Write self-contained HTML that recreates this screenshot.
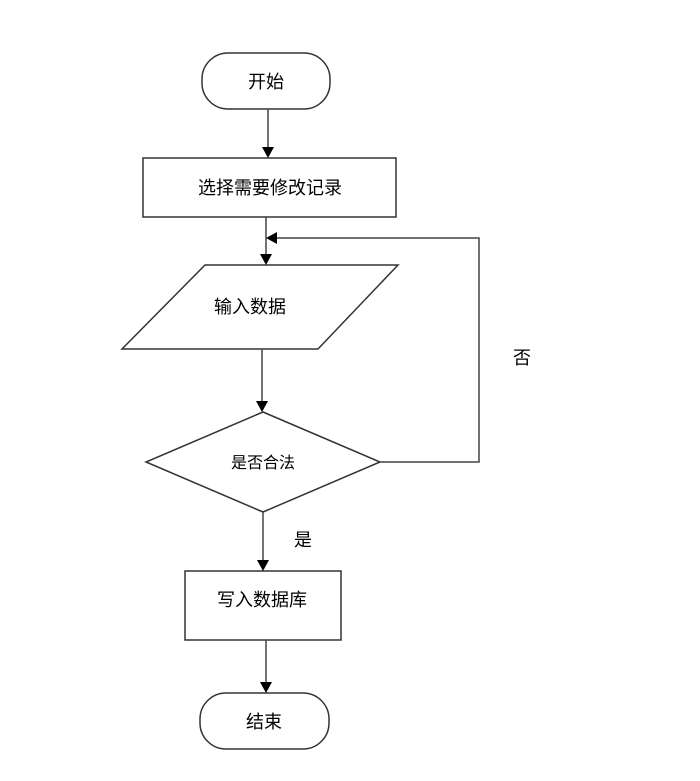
<!DOCTYPE html>
<html><head><meta charset="utf-8"><style>
html,body{margin:0;padding:0;background:#fff;}
svg text{font-family:"Liberation Sans","Noto Sans CJK SC",sans-serif;fill:#000;}
</style></head><body>
<svg width="700" height="776" xmlns="http://www.w3.org/2000/svg">
<g stroke="#333" stroke-width="1.5" fill="#fff">
<rect x="202" y="53" width="128" height="56" rx="26" ry="26"/>
<rect x="143" y="158" width="253" height="59"/>
<polygon points="205,265 398,265 318,349 122,349"/>
<polygon points="263,412 380,462 263,512 146,462"/>
<rect x="185" y="571" width="156" height="69"/>
<rect x="200" y="693" width="129" height="56" rx="26" ry="26"/>
</g>
<g stroke="#444" stroke-width="1.5" fill="none">
<line x1="268" y1="109" x2="268" y2="150"/>
<line x1="266" y1="217" x2="266" y2="257"/>
<polyline points="380,462 479,462 479,238 276,238"/>
<line x1="262" y1="349" x2="262" y2="404"/>
<line x1="263" y1="512" x2="263" y2="563"/>
<line x1="266" y1="640" x2="266" y2="685"/>
</g>
<g fill="#000">
<polygon points="262,147 274,147 268,158"/>
<polygon points="260,254 272,254 266,265"/>
<polygon points="266,238 277,232 277,244"/>
<polygon points="256,401 268,401 262,412"/>
<polygon points="257,560 269,560 263,571"/>
<polygon points="260,682 272,682 266,693"/>
</g>
<g font-size="18">
<text x="266" y="88" text-anchor="middle">开始</text>
<text x="270" y="194" text-anchor="middle">选择需要修改记录</text>
<text x="250" y="313" text-anchor="middle">输入数据</text>
<text x="263" y="468" text-anchor="middle" font-size="16">是否合法</text>
<text x="262" y="606" text-anchor="middle">写入数据库</text>
<text x="264" y="728" text-anchor="middle">结束</text>
<text x="303" y="546" text-anchor="middle">是</text>
<text x="522" y="364" text-anchor="middle">否</text>
</g>
</svg>
</body></html>
